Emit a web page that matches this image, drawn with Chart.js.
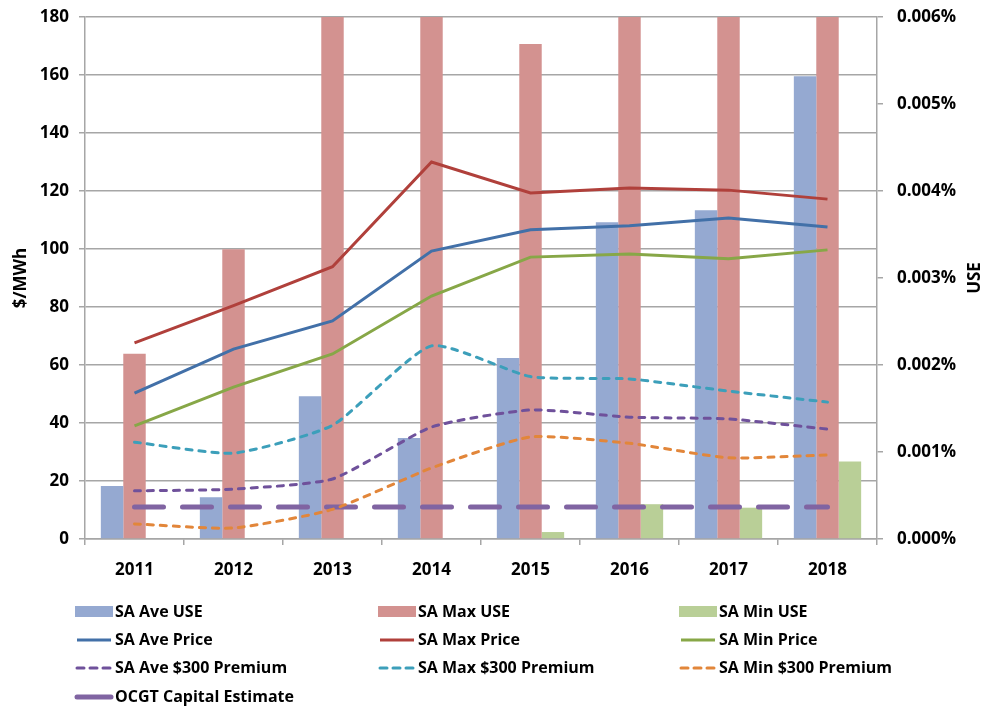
<!DOCTYPE html>
<html>
<head>
<meta charset="utf-8">
<title>SA USE and Price</title>
<script src="https://cdn.jsdelivr.net/npm/chart.js@4.4.1/dist/chart.umd.min.js"></script>
<style>
  html, body { margin: 0; padding: 0; background: #fff; }
  #wrap { width: 988px; height: 706px; position: relative; }
</style>
</head>
<body>
<div id="wrap"><canvas id="useChart"></canvas></div>
<script>
// chart data
const years = ['2011', '2012', '2013', '2014', '2015', '2016', '2017', '2018'];

// USE, in percent (right axis). Max USE runs off the top in several years
const aveUse = [0.00061, 0.00048, 0.00164, 0.00116, 0.00208, 0.00364, 0.00378, 0.00532];
const maxUse = [0.00213, 0.00333, 0.0075, 0.0075, 0.00569, 0.0075, 0.0075, 0.0075];
const minUse = [0, 0, 0, 0, 0.00008, 0.0004, 0.00036, 0.00089];

// $/MWh (left axis)
const avePrice = [50.3, 65.5, 75.2, 99.3, 106.6, 108, 110.7, 107.6];
const maxPrice = [67.6, 80.5, 93.9, 130, 119.3, 121, 120.3, 117.2];
const minPrice = [39, 52.4, 63.8, 83.8, 97.2, 98.3, 96.6, 99.7];
const avePremium = [16.6, 17.2, 20.7, 38.6, 44.5, 42, 41.4, 37.9];
const maxPremium = [33.4, 29.6, 39.2, 66.6, 56, 55.2, 51, 47.2];
const minPremium = [5.2, 3.8, 10.2, 24.5, 35.2, 33, 28, 29];
const ocgtEstimate = [11, 11, 11, 11, 11, 11, 11, 11];

const leftTicks = { min: 0, max: 180, step: 20 };
const rightTicks = { min: 0, max: 0.006, step: 0.001 };

const FONT = '"Open Sans", Lato, sans-serif';
const GRID = '#a6a6a6';

function barSet(label, data, color) {
  return {
    type: 'bar', label, data, yAxisID: 'y1', order: 2, clip: 0,
    backgroundColor: color, borderWidth: 0,
    categoryPercentage: 0.68, barPercentage: 1.0
  };
}

function lineSet(label, data, color, opts) {
  return Object.assign({
    type: 'line', label, data, yAxisID: 'y', order: 1,
    borderColor: color, backgroundColor: color, borderWidth: 3,
    pointRadius: 0, fill: false, tension: 0
  }, opts || {});
}

const dashed = { borderDash: [6, 7], borderCapStyle: 'round', tension: 0.18, legendDash: [7, 6] };

// y axes: fixed width, no extra room for half-labels so the plot box matches
function fixAxis(width) {
  return function (scale) {
    scale.width = width;
    scale.paddingTop = 0;
    scale.paddingBottom = 0;
  };
}

// draws axis titles and the three-column legend
const decorPlugin = {
  id: 'decor',
  afterDraw(chart) {
    const ctx = chart.ctx;
    const area = chart.chartArea;
    const midY = (area.top + area.bottom) / 2;

    ctx.save();
    ctx.fillStyle = '#000';
    ctx.font = 'bold 17px ' + FONT;
    ctx.textAlign = 'center';
    ctx.textBaseline = 'middle';
    ctx.translate(21, midY);
    ctx.rotate(-Math.PI / 2);
    ctx.fillText('$/MWh', 0, 0);
    ctx.restore();

    ctx.save();
    ctx.fillStyle = '#000';
    ctx.font = 'bold 17px ' + FONT;
    ctx.textAlign = 'center';
    ctx.textBaseline = 'middle';
    ctx.translate(975, midY);
    ctx.rotate(-Math.PI / 2);
    ctx.fillText('USE', 0, 0);
    ctx.restore();

    const colX = [75, 378, 679];
    const rowY = [612, 640, 668, 697];
    const markW = 38;

    chart.data.datasets.forEach((ds, i) => {
      const x = colX[i % 3];
      const y = rowY[Math.floor(i / 3)];
      ctx.save();
      if (ds.type === 'bar') {
        ctx.fillStyle = ds.backgroundColor;
        ctx.fillRect(x, y - 6, markW, 11);
      } else {
        ctx.strokeStyle = ds.borderColor;
        ctx.lineWidth = ds.legendWidth || ds.borderWidth;
        ctx.lineCap = ds.borderCapStyle || 'butt';
        ctx.setLineDash(ds.legendDash || []);
        ctx.beginPath();
        ctx.moveTo(x + 2, y);
        ctx.lineTo(x + markW - 2, y);
        ctx.stroke();
      }
      ctx.fillStyle = '#000';
      ctx.font = 'bold 16px ' + FONT;
      ctx.textAlign = 'left';
      ctx.textBaseline = 'middle';
      ctx.fillText(ds.label, x + 40, y);
      ctx.restore();
    });
  }
};

const ctx = document.getElementById('useChart');

new Chart(ctx, {
  type: 'bar',
  data: {
    labels: years,
    datasets: [
      barSet('SA Ave USE', aveUse, '#95a9d1'),
      barSet('SA Max USE', maxUse, '#d39290'),
      barSet('SA Min USE', minUse, '#b9cf97'),
      lineSet('SA Ave Price', avePrice, '#4270a8'),
      lineSet('SA Max Price', maxPrice, '#b0403b'),
      lineSet('SA Min Price', minPrice, '#87a747'),
      lineSet('SA Ave $300 Premium', avePremium, '#6f519b', dashed),
      lineSet('SA Max $300 Premium', maxPremium, '#3c9fba', dashed),
      lineSet('SA Min $300 Premium', minPremium, '#e2863a', dashed),
      lineSet('OCGT Capital Estimate', ocgtEstimate, '#8064a2', {
        borderWidth: 5, borderDash: [29, 19], borderCapStyle: 'round', legendDash: []
      })
    ]
  },
  options: {
    responsive: true,
    maintainAspectRatio: false,
    animation: false,
    layout: { padding: { top: 17, bottom: 122, left: 0, right: 0 } },
    plugins: {
      legend: { display: false },
      tooltip: { enabled: false }
    },
    scales: {
      x: {
        offset: true,
        grid: { display: true, drawOnChartArea: false, offset: true, color: GRID, lineWidth: 1.5, tickLength: 6 },
        border: { color: GRID, width: 1.5 },
        ticks: { color: '#000', font: { family: FONT, size: 17, weight: 'bold' }, padding: 15, maxRotation: 0 },
        afterFit(scale) {
          scale.height = 45;
          scale.paddingLeft = 0;
          scale.paddingRight = 0;
        }
      },
      y: {
        position: 'left',
        min: leftTicks.min,
        max: leftTicks.max,
        ticks: { stepSize: leftTicks.step, color: '#000', font: { family: FONT, size: 17, weight: 'bold' }, padding: 10 },
        grid: { color: GRID, lineWidth: 1.5, tickLength: 6 },
        border: { color: GRID, width: 1.5 },
        afterFit: fixAxis(85)
      },
      y1: {
        position: 'right',
        min: rightTicks.min,
        max: rightTicks.max,
        ticks: {
          stepSize: rightTicks.step, color: '#000', font: { family: FONT, size: 17, weight: 'bold' }, padding: 14,
          callback: v => v.toFixed(3) + '%'
        },
        grid: { drawOnChartArea: false, color: GRID, lineWidth: 1.5, tickLength: 6 },
        border: { color: GRID, width: 1.5 },
        afterFit: fixAxis(111)
      }
    }
  },
  plugins: [decorPlugin]
});
</script>
</body>
</html>
